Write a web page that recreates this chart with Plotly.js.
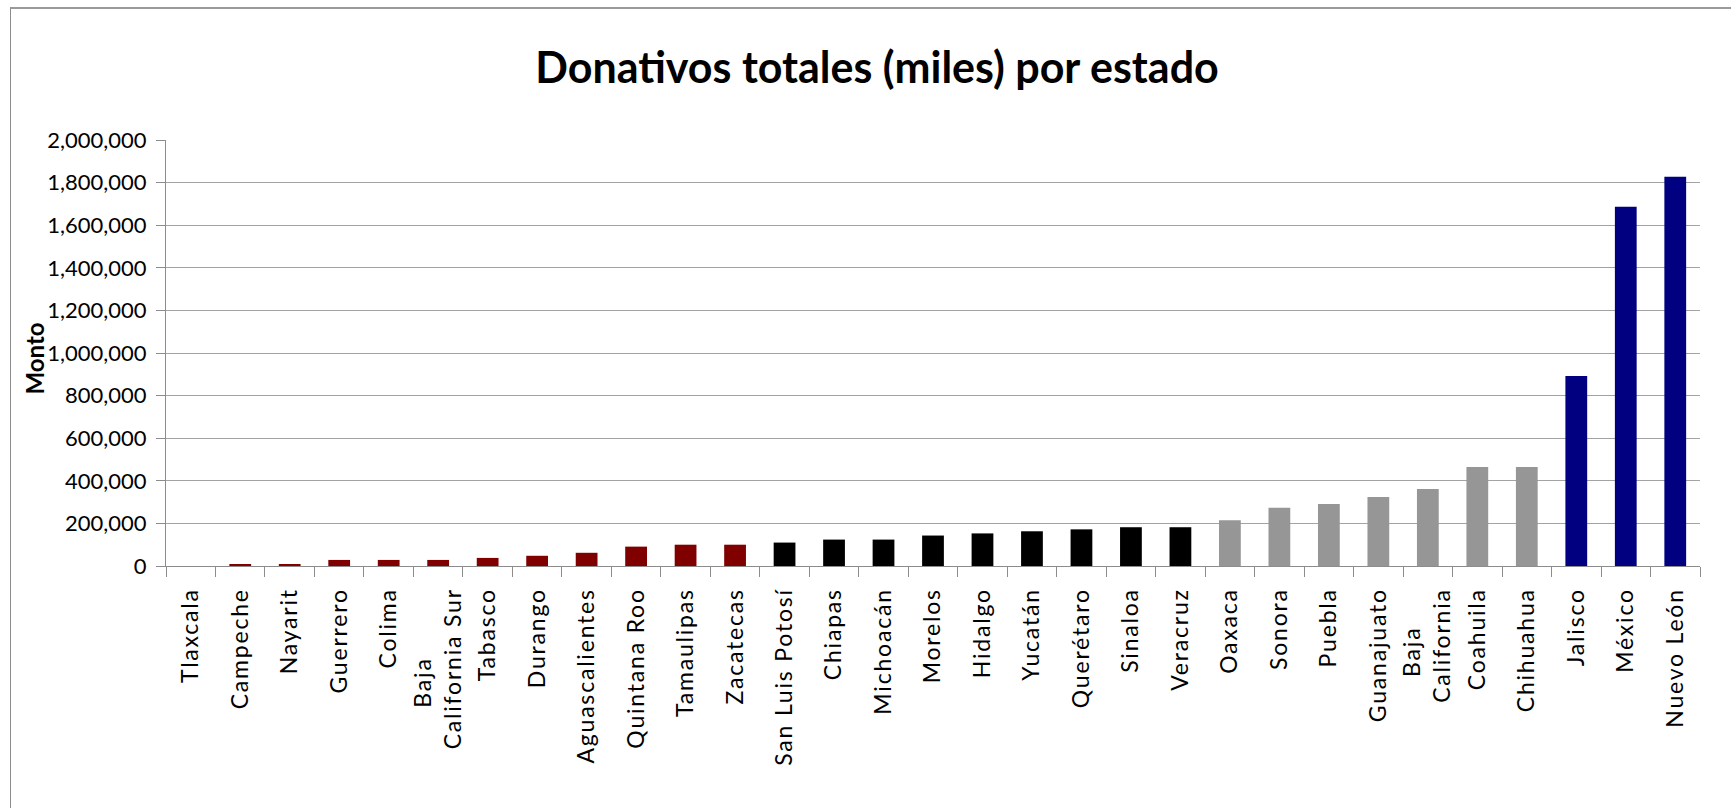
<!DOCTYPE html>
<html>
<head>
<meta charset="utf-8">
<script src="https://cdn.plot.ly/plotly-3.0.1.min.js"></script>
<style>
  html, body { margin: 0; padding: 0; background: #ffffff; }
  #wrap { position: relative; width: 1731px; height: 808px; overflow: hidden; }
  #frame { position: absolute; left: 10px; top: 7px; width: 1730px; height: 810px;
           border-left: 1px solid #8c8c8c; border-top: 2px solid #9a9a9a; pointer-events: none; z-index: 2; }
  #chart { position: absolute; left: 0; top: 0; width: 1731px; height: 808px; }
  .xtick text { letter-spacing: 1.8px; }
</style>
</head>
<body>
<div id="wrap">
  <div id="chart"></div>
  <div id="frame"></div>
</div>
<script>
// ---- Data (values in thousands of pesos) ----
const states = [
  "Tlaxcala", "Campeche", "Nayarit", "Guerrero", "Colima", "Baja California Sur",
  "Tabasco", "Durango", "Aguascalientes", "Quintana Roo", "Tamaulipas", "Zacatecas",
  "San Luis Potosí", "Chiapas", "Michoacán", "Morelos", "Hidalgo", "Yucatán",
  "Querétaro", "Sinaloa", "Veracruz", "Oaxaca", "Sonora", "Puebla", "Guanajuato",
  "Baja California", "Coahuila", "Chihuahua", "Jalisco", "México", "Nuevo León"
];
// tick labels as printed (two-line labels, first line centred with no-break spaces)
const NB = "\u00A0";
const xTickText = [
  "Tlaxcala", "Campeche", "Nayarit", "Guerrero", "Colima", "Baja" + NB.repeat(9) + "<br>California Sur",
  "Tabasco", "Durango", "Aguascalientes", "Quintana Roo", "Tamaulipas", "Zacatecas",
  "San Luis Potosí", "Chiapas", "Michoacán", "Morelos", "Hidalgo", "Yucatán",
  "Querétaro", "Sinaloa", "Veracruz", "Oaxaca", "Sonora", "Puebla", "Guanajuato",
  "Baja" + NB.repeat(5) + "<br>California", "Coahuila", "Chihuahua", "Jalisco", "México", "Nuevo León"
];
const montos = [
  0, 9500, 9500, 28500, 28500, 28500,
  38000, 48000, 62000, 91000, 100000, 100000,
  110000, 124000, 124000, 143000, 153000, 163000,
  172000, 182000, 182000, 215000, 274000, 291000, 324000,
  362000, 465000, 465000, 892000, 1687000, 1827000
];
// colour group of each state
const grupos = [
  "rojo","rojo","rojo","rojo","rojo","rojo",
  "rojo","rojo","rojo","rojo","rojo","rojo",
  "negro","negro","negro","negro","negro","negro",
  "negro","negro","negro","gris","gris","gris","gris",
  "gris","gris","gris","azul","azul","azul"
];
const colorGrupo = { rojo: "#800000", negro: "#000000", gris: "#969696", azul: "#000080" };
const yTicks = [0, 200000, 400000, 600000, 800000, 1000000, 1200000, 1400000, 1600000, 1800000, 2000000];
const yTickText = ["0", "200,000", "400,000", "600,000", "800,000", "1,000,000", "1,200,000",
                   "1,400,000", "1,600,000", "1,800,000", "2,000,000"];
const titulo = "Donativos totales (miles) por estado";
const tituloY = "Monto";

const trace = {
  type: "bar",
  x: states,
  y: montos,
  marker: { color: grupos.map(g => colorGrupo[g]), line: { width: 0 } },
  hoverinfo: "x+y"
};

const layout = {
  width: 1731,
  height: 808,
  paper_bgcolor: "#ffffff",
  plot_bgcolor: "#ffffff",
  margin: { l: 166, r: 31, t: 140, b: 242, pad: 0 },
  showlegend: false,
  bargap: 0.56,
  title: {
    text: "<b>" + titulo + "</b>",
    font: { family: "Lato, 'Open Sans', sans-serif", size: 43, color: "#000000" },
    xref: "container", yref: "container",
    x: 877 / 1731, y: 1 - 68 / 808,
    xanchor: "center", yanchor: "middle"
  },
  xaxis: {
    type: "category",
    tickmode: "array",
    tickvals: states,
    ticktext: xTickText,
    tickangle: -90,
    tickson: "boundaries",
    ticks: "outside",
    ticklen: 10,
    tickcolor: "#8c8c8c",
    tickwidth: 1,
    ticklabelstandoff: 12,
    showline: true,
    linecolor: "#8c8c8c",
    linewidth: 1,
    showgrid: false,
    zeroline: false,
    automargin: false,
    tickfont: { family: "Lato, 'Open Sans', sans-serif", size: 23, color: "#000000" }
  },
  yaxis: {
    range: [0, 2000000],
    tickmode: "array",
    tickvals: yTicks,
    ticktext: yTickText,
    ticks: "outside",
    ticklen: 9,
    tickcolor: "#8c8c8c",
    ticklabelstandoff: 5,
    showline: true,
    linecolor: "#8c8c8c",
    linewidth: 1,
    showgrid: true,
    gridcolor: "#a3a3a3",
    gridwidth: 1,
    zeroline: false,
    automargin: false,
    tickfont: { family: "Lato, 'Open Sans', sans-serif", size: 22, color: "#000000" }
  },
  annotations: [{
    text: "<b>" + tituloY + "</b>",
    textangle: -90,
    xref: "paper", yref: "paper",
    x: (35 - 166) / 1534, y: 0.487,
    xanchor: "center", yanchor: "middle",
    showarrow: false,
    font: { family: "Lato, 'Open Sans', sans-serif", size: 24, color: "#000000" }
  }]
};

Plotly.newPlot("chart", [trace], layout, { displayModeBar: false, staticPlot: true });
</script>
</body>
</html>
